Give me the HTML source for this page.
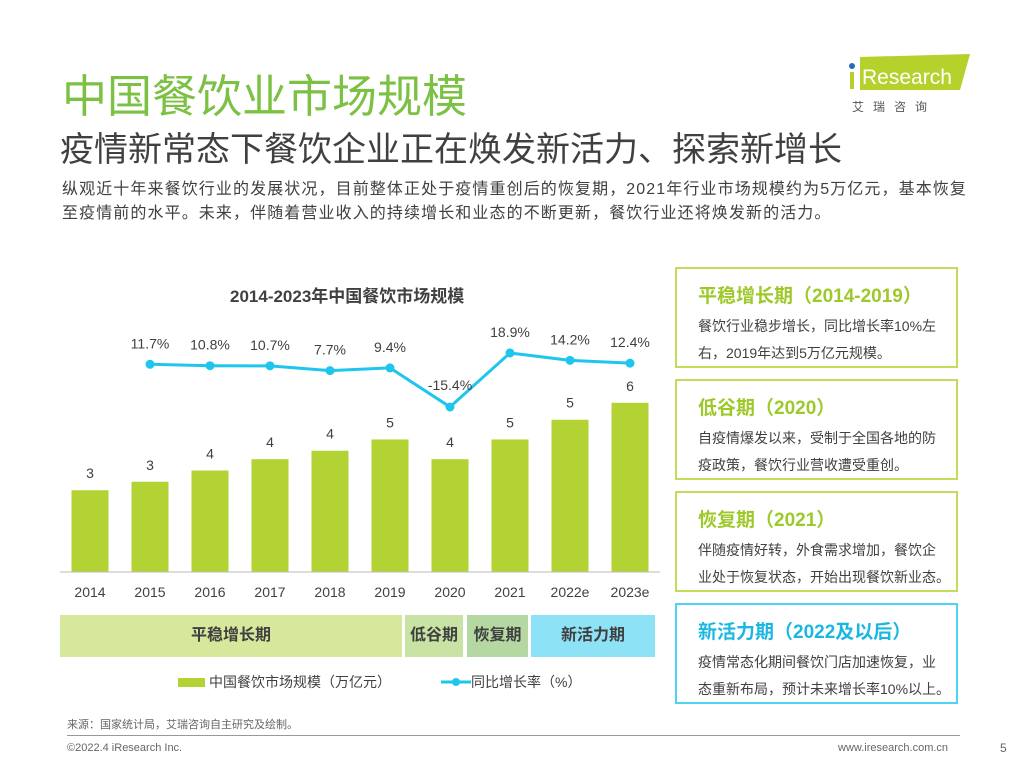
<!DOCTYPE html>
<html><head><meta charset="utf-8"><style>
body{margin:0;width:1024px;height:768px;background:#fff;position:relative;overflow:hidden;font-family:"Liberation Sans","Noto Sans CJK SC",sans-serif;}
.a{position:absolute;white-space:nowrap;}
.box{position:absolute;left:675px;width:283px;height:101px;border:2px solid #c2dd5a;box-sizing:border-box;}
.box .h{position:absolute;left:21px;top:12px;font-size:19px;font-weight:bold;color:#9ec92a;}
.box .t{position:absolute;left:21px;top:44px;font-size:14px;line-height:27px;color:#404040;white-space:nowrap;}
</style></head><body>
<div class="a" style="left:62px;top:60px;font-size:45px;color:#7cc144;">中国餐饮业市场规模</div>
<div class="a" style="left:60px;top:122px;font-size:34px;color:#404040;">疫情新常态下餐饮企业正在焕发新活力、探索新增长</div>
<div class="a" style="left:62px;top:178px;font-size:16px;letter-spacing:1.1px;line-height:24px;color:#404040;">纵观近十年来餐饮行业的发展状况，目前整体正处于疫情重创后的恢复期，2021年行业市场规模约为5万亿元，基本恢复<br>至疫情前的水平。未来，伴随着营业收入的持续增长和业态的不断更新，餐饮行业还将焕发新的活力。</div>
<div class="a" style="left:842px;top:52px;width:130px;height:60px;">
<svg width="130" height="60"><polygon points="18,5 128,2 118,38 18,38" fill="#b5d12c"/><circle cx="10" cy="14" r="3" fill="#2a6ab5"/><rect x="8" y="20" width="4" height="17" fill="#b5d12c"/><text x="20" y="32" font-size="21" fill="#fff" font-family="Liberation Sans">Research</text><text x="10" y="59" font-size="12" fill="#555" letter-spacing="9" font-family="Noto Sans CJK SC">艾瑞咨询</text></svg></div>
<div class="a" style="left:230px;top:282px;font-size:17px;font-weight:bold;color:#404040;">2014-2023年中国餐饮市场规模</div>
<svg class="a" style="left:0;top:0" width="670" height="700" id="chart"></svg>
<div class="a" style="left:60px;top:615px;width:342px;height:42px;background:#d6e89b;font-size:16px;font-weight:bold;color:#404040;text-align:center;line-height:42px;">平稳增长期</div>
<div class="a" style="left:405px;top:615px;width:58px;height:42px;background:#c8e3a3;font-size:16px;font-weight:bold;color:#404040;text-align:center;line-height:42px;">低谷期</div>
<div class="a" style="left:467px;top:615px;width:61px;height:42px;background:#b5d8a3;font-size:16px;font-weight:bold;color:#404040;text-align:center;line-height:42px;">恢复期</div>
<div class="a" style="left:531px;top:615px;width:124px;height:42px;background:#8ee2f5;font-size:16px;font-weight:bold;color:#404040;text-align:center;line-height:42px;">新活力期</div>
<div class="a" style="left:178px;top:672px;font-size:14px;color:#404040;"><span style="display:inline-block;width:27px;height:9px;background:#b3d234;margin-right:4px;"></span>中国餐饮市场规模（万亿元）</div>
<div class="a" style="left:441px;top:672px;font-size:14px;color:#404040;"><svg width="30" height="10"><line x1="0" y1="5" x2="30" y2="5" stroke="#1ec6ee" stroke-width="3"/><circle cx="15" cy="5" r="4" fill="#1ec6ee"/></svg>同比增长率（%）</div>
<div class="a" style="left:67px;top:716px;font-size:11px;color:#666;">来源：国家统计局，艾瑞咨询自主研究及绘制。</div>
<div class="a" style="left:67px;top:735px;width:893px;height:1px;background:#999;"></div>
<div class="a" style="left:67px;top:742px;font-size:11px;color:#666;">©2022.4 iResearch Inc.</div>
<div class="a" style="left:838px;top:742px;font-size:11px;color:#666;">www.iresearch.com.cn</div>
<div class="a" style="left:1000px;top:741px;font-size:12px;color:#666;">5</div>

<div class="box" style="top:267px;"><div class="h">平稳增长期（2014-2019）</div><div class="t">餐饮行业稳步增长，同比增长率10%左<br>右，2019年达到5万亿元规模。</div></div>
<div class="box" style="top:379px;"><div class="h">低谷期（2020）</div><div class="t">自疫情爆发以来，受制于全国各地的防<br>疫政策，餐饮行业营收遭受重创。</div></div>
<div class="box" style="top:491px;"><div class="h">恢复期（2021）</div><div class="t">伴随疫情好转，外食需求增加，餐饮企<br>业处于恢复状态，开始出现餐饮新业态。</div></div>
<div class="box" style="top:603px;border-color:#4fd3f2;"><div class="h" style="color:#1ab8e0;">新活力期（2022及以后）</div><div class="t">疫情常态化期间餐饮门店加速恢复，业<br>态重新布局，预计未来增长率10%以上。</div></div>

<script>
const categories=["2014","2015","2016","2017","2018","2019","2020","2021","2022e","2023e"];
const sizeValues=[2.9,3.2,3.6,4.0,4.3,4.7,4.0,4.7,5.4,6.0];
const sizeLabels=["3","3","4","4","4","5","4","5","5","6"];
const growthValues=[null,11.7,10.8,10.7,7.7,9.4,-15.4,18.9,14.2,12.4];
const growthLabels=["","11.7%","10.8%","10.7%","7.7%","9.4%","-15.4%","18.9%","14.2%","12.4%"];
const svg=document.getElementById('chart');const NS='http://www.w3.org/2000/svg';
const xc=i=>90+60*i; const base=572; const yb=v=>base-v*28.2; const yl=v=>382.7-v*1.574;
function mk(t,a,p){const e=document.createElementNS(NS,t);for(const k in a)e.setAttribute(k,a[k]);(p||svg).appendChild(e);return e;}
categories.forEach((c,i)=>{
 const r=mk('rect',{x:xc(i)-18.5,y:yb(sizeValues[i]),width:37,height:base-yb(sizeValues[i]),fill:'#b3d234'});
 
 
 const t=mk('text',{x:xc(i),y:yb(sizeValues[i])-12,'text-anchor':'middle','font-size':14,fill:'#404040'});t.textContent=sizeLabels[i];
 
 
 const x=mk('text',{x:xc(i),y:597,'text-anchor':'middle','font-size':14,fill:'#404040'});x.textContent=c;
 
 
});
const ax=mk('line',{x1:60,y1:base,x2:660,y2:base,stroke:'#bbb','stroke-width':1});


let pts=[];growthValues.forEach((v,i)=>{if(v!==null)pts.push(xc(i)+','+yl(v));});
const pl=mk('polyline',{points:pts.join(' '),fill:'none',stroke:'#1ec6ee','stroke-width':3});


growthValues.forEach((v,i)=>{if(v===null)return;
 const c=mk('circle',{cx:xc(i),cy:yl(v),r:4.5,fill:'#1ec6ee'});
 
 
 const t=mk('text',{x:xc(i),y:(i===6?yl(v)-17:yl(v)-16),'text-anchor':'middle','font-size':14,fill:'#404040'});t.textContent=growthLabels[i];
 
 
});
</script>
</body></html>
